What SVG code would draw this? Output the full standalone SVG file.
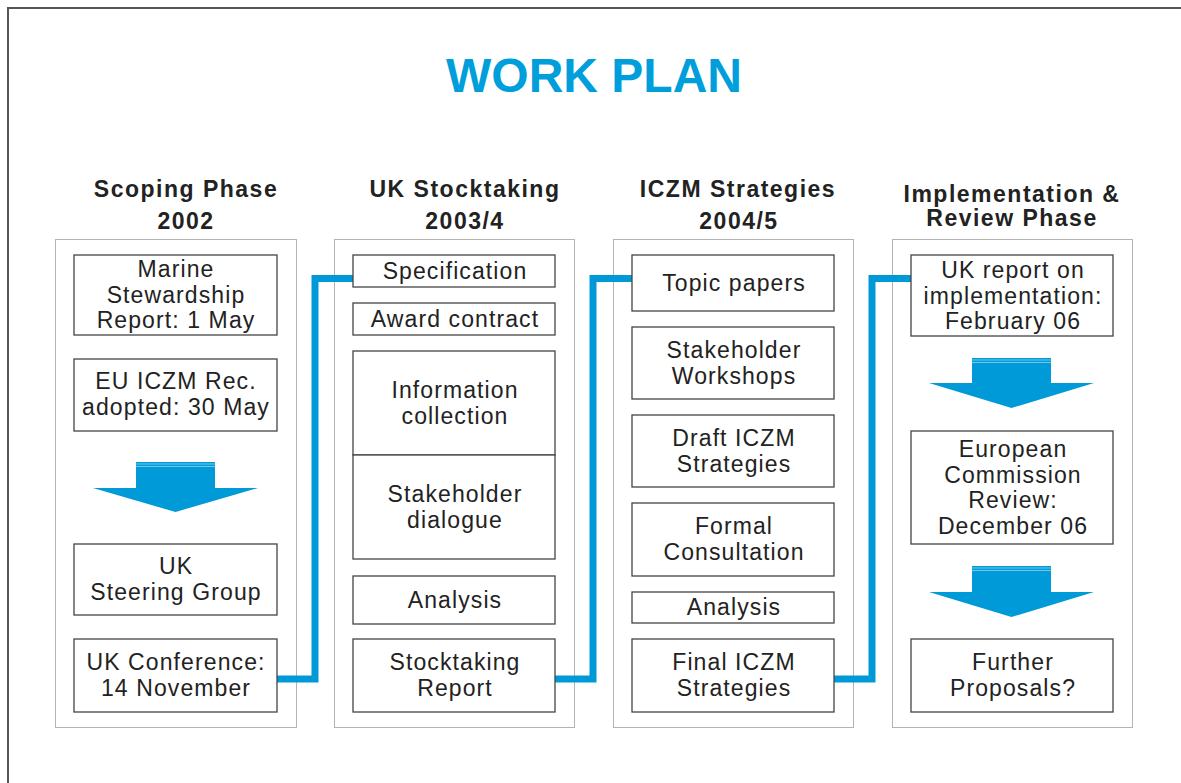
<svg xmlns="http://www.w3.org/2000/svg" width="1181" height="783" viewBox="0 0 1181 783">
<style>
.frame{fill:none;stroke:#555;stroke-width:2}
.col{fill:none;stroke:#666;stroke-width:1;stroke-dasharray:1 1}
.box{fill:#fff;stroke:#444;stroke-width:1.3}
.t{font-family:"Liberation Sans",Arial,sans-serif;font-size:23px;fill:#222;text-anchor:middle;letter-spacing:1.1px}
.h{font-family:"Liberation Sans",Arial,sans-serif;font-size:23px;font-weight:bold;fill:#222;text-anchor:middle;letter-spacing:1.5px}
.title{font-family:"Liberation Sans",Arial,sans-serif;font-size:48px;font-weight:bold;fill:#009fdb;text-anchor:middle}
.conn{fill:none;stroke:#0099d8;stroke-width:7;stroke-linejoin:miter;stroke-linecap:butt}
.arrow{fill:#009ad8}
.stripe{stroke:#8fd3f0;stroke-width:0.8}
</style>
<rect width="1181" height="783" fill="#fff"/>
<path class="frame" d="M8,783 V8 H1181"/>
<text class="title" x="594" y="92">WORK PLAN</text>

<g id="headings">
<text class="h" x="186" y="197">Scoping Phase</text>
<text class="h" x="186" y="229">2002</text>
<text class="h" x="465" y="197">UK Stocktaking</text>
<text class="h" x="465" y="229">2003/4</text>
<text class="h" x="738" y="197">ICZM Strategies</text>
<text class="h" x="739" y="229">2004/5</text>
<text class="h" x="1012" y="202">Implementation &amp;</text>
<text class="h" x="1012" y="226">Review Phase</text>
</g>

<g id="columns">
<rect class="col" x="55.5" y="239.5" width="241" height="488"/>
<rect class="col" x="334.5" y="239.5" width="240" height="488"/>
<rect class="col" x="613.5" y="239.5" width="240" height="488"/>
<rect class="col" x="892.5" y="239.5" width="240" height="488"/>
</g>

<g id="connectors">
<path class="conn" d="M277,679 H315 V278.5 H353"/>
<path class="conn" d="M555,679 H593 V278.5 H632"/>
<path class="conn" d="M834,679 H872 V278.5 H911"/>
</g>

<g id="n-marine">
<rect class="box" x="74" y="255" width="203" height="80"/>
<text class="t" x="176" y="277">Marine</text>
<text class="t" x="176" y="303">Stewardship</text>
<text class="t" x="176" y="328">Report: 1 May</text>
</g>
<g id="n-eu">
<rect class="box" x="74" y="359" width="203" height="72"/>
<text class="t" x="176" y="389">EU ICZM Rec.</text>
<text class="t" x="176" y="415">adopted: 30 May</text>
</g>
<g id="arrow1">
<polygon class="arrow" points="136,462 215,462 215,488 258,488 175.5,512 93,488 136,488"/>
<line class="stripe" x1="136" y1="464" x2="215" y2="464"/>
<line class="stripe" x1="136" y1="466.5" x2="215" y2="466.5"/>
</g>
<g id="n-steering">
<rect class="box" x="74" y="544" width="203" height="71"/>
<text class="t" x="176" y="574">UK</text>
<text class="t" x="176" y="600">Steering Group</text>
</g>
<g id="n-conference">
<rect class="box" x="74" y="639" width="203" height="73"/>
<text class="t" x="176" y="670">UK Conference:</text>
<text class="t" x="176" y="696">14 November</text>
</g>

<g id="n-spec">
<rect class="box" x="353" y="255" width="202" height="32"/>
<text class="t" x="455" y="279">Specification</text>
</g>
<g id="n-award">
<rect class="box" x="353" y="303" width="202" height="32"/>
<text class="t" x="455" y="327">Award contract</text>
</g>
<g id="n-info">
<rect class="box" x="353" y="351" width="202" height="104"/>
<text class="t" x="455" y="398">Information</text>
<text class="t" x="455" y="424">collection</text>
</g>
<g id="n-dialogue">
<rect class="box" x="353" y="455" width="202" height="104"/>
<text class="t" x="455" y="502">Stakeholder</text>
<text class="t" x="455" y="528">dialogue</text>
</g>
<g id="n-analysis1">
<rect class="box" x="353" y="576" width="202" height="48"/>
<text class="t" x="455" y="608">Analysis</text>
</g>
<g id="n-stocktaking">
<rect class="box" x="353" y="639" width="202" height="73"/>
<text class="t" x="455" y="670">Stocktaking</text>
<text class="t" x="455" y="696">Report</text>
</g>

<g id="n-topic">
<rect class="box" x="632" y="255" width="202" height="56"/>
<text class="t" x="734" y="291">Topic papers</text>
</g>
<g id="n-workshops">
<rect class="box" x="632" y="327" width="202" height="72"/>
<text class="t" x="734" y="358">Stakeholder</text>
<text class="t" x="734" y="384">Workshops</text>
</g>
<g id="n-draft">
<rect class="box" x="632" y="415" width="202" height="72"/>
<text class="t" x="734" y="446">Draft ICZM</text>
<text class="t" x="734" y="472">Strategies</text>
</g>
<g id="n-formal">
<rect class="box" x="632" y="503" width="202" height="73"/>
<text class="t" x="734" y="534">Formal</text>
<text class="t" x="734" y="560">Consultation</text>
</g>
<g id="n-analysis2">
<rect class="box" x="632" y="592" width="202" height="31"/>
<text class="t" x="734" y="615">Analysis</text>
</g>
<g id="n-final">
<rect class="box" x="632" y="639" width="202" height="73"/>
<text class="t" x="734" y="670">Final ICZM</text>
<text class="t" x="734" y="696">Strategies</text>
</g>

<g id="n-ukreport">
<rect class="box" x="911" y="255" width="202" height="81"/>
<text class="t" x="1013" y="278">UK report on</text>
<text class="t" x="1013" y="304">implementation:</text>
<text class="t" x="1013" y="329">February 06</text>
</g>
<g id="arrow2">
<polygon class="arrow" points="972,358 1051,358 1051,383 1094,383 1011.5,408 929,383 972,383"/>
<line class="stripe" x1="972" y1="360" x2="1051" y2="360"/>
<line class="stripe" x1="972" y1="362.5" x2="1051" y2="362.5"/>
</g>
<g id="n-ecreview">
<rect class="box" x="911" y="431" width="202" height="113"/>
<text class="t" x="1013" y="457">European</text>
<text class="t" x="1013" y="483">Commission</text>
<text class="t" x="1013" y="508">Review:</text>
<text class="t" x="1013" y="534">December 06</text>
</g>
<g id="arrow3">
<polygon class="arrow" points="972,566 1051,566 1051,592 1094,592 1011.5,617 929,592 972,592"/>
<line class="stripe" x1="972" y1="568" x2="1051" y2="568"/>
<line class="stripe" x1="972" y1="570.5" x2="1051" y2="570.5"/>
</g>
<g id="n-further">
<rect class="box" x="911" y="639" width="202" height="73"/>
<text class="t" x="1013" y="670">Further</text>
<text class="t" x="1013" y="696">Proposals?</text>
</g>
</svg>
